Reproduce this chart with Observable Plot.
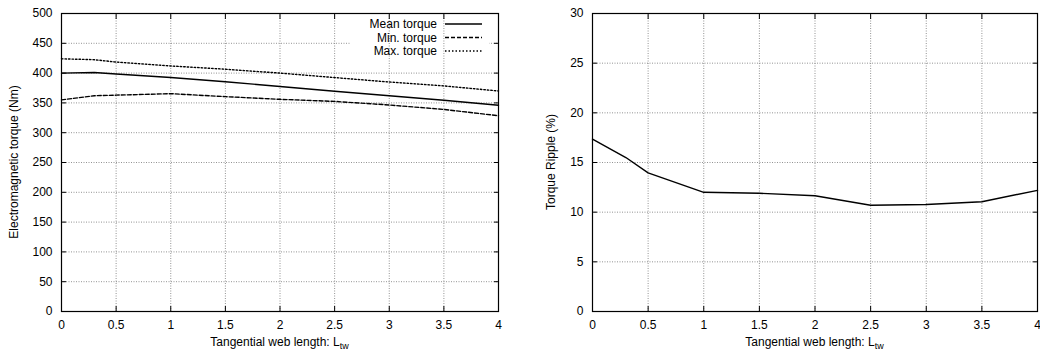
<!DOCTYPE html>
<html>
<head>
<meta charset="utf-8">
<script src="https://cdn.jsdelivr.net/npm/d3@7"></script>
<script src="https://cdn.jsdelivr.net/npm/@observablehq/plot@0.6"></script>
<style>
  html, body { margin: 0; padding: 0; background: #fff; }
  #wrap { display: flex; width: 1040px; height: 356px; }
  svg { font-family: "Liberation Sans", Arial, sans-serif; }
</style>
</head>
<body>
<div id="wrap"></div>
<script>
// Data
const ltw = [0, 0.3, 0.5, 1, 1.5, 2, 2.5, 3, 3.5, 4];
const meanTorque = [400, 401, 398.5, 392.5, 385.5, 377.5, 369.5, 362, 354.5, 346];
const minTorque = [355, 362, 363, 365.5, 360.5, 356, 352.5, 346.5, 339, 328.5];
const maxTorque = [424, 422.5, 418.5, 412, 406.5, 400, 392.5, 385, 378.5, 370];
const ripple = [17.35, 15.5, 13.95, 12.0, 11.9, 11.65, 10.7, 10.77, 11.05, 12.2];

const xTicks = [0, 0.5, 1, 1.5, 2, 2.5, 3, 3.5, 4];
const yTicksLeft = [0, 50, 100, 150, 200, 250, 300, 350, 400, 450, 500];
const yTicksRight = [0, 5, 10, 15, 20, 25, 30];

const seriesNames = ["Mean torque", "Min. torque", "Max. torque"];
const seriesValues = [meanTorque, minTorque, maxTorque];
const dashes = [null, "4,2", "1.5,2"];

const torqueRows = seriesNames.flatMap((name, i) =>
  ltw.map((x, j) => ({ series: name, x, y: seriesValues[i][j] })));
const rippleRows = ltw.map((x, j) => ({ x, y: ripple[j] }));

const gridStyle = { stroke: "#777", strokeOpacity: 1, strokeDasharray: "1,1.5", strokeWidth: 0.8 };
const fmt = d => String(d);

function frameAxes(yTicks, extra = []) {
  return [
    Plot.gridY(yTicks, gridStyle),
    ...extra,
    Plot.gridX(xTicks, gridStyle),
    Plot.axisX(xTicks, { tickSize: 0, tickPadding: 9, label: null, fontSize: 12, tickFormat: fmt }),
    Plot.axisY(yTicks, { tickSize: 0, tickPadding: 9, label: null, fontSize: 12, tickFormat: fmt }),
    Plot.axisX(xTicks, { tickSize: -5, tickFormat: () => "", label: null }),
    Plot.axisX(xTicks, { anchor: "top", tickSize: -5, tickFormat: () => "", label: null }),
    Plot.axisY(yTicks, { tickSize: -5, tickFormat: () => "", label: null }),
    Plot.axisY(yTicks, { anchor: "right", tickSize: -5, tickFormat: () => "", label: null })
  ];
}

function addLabels(svg, m, w, h, ylabel) {
  const s = d3.select(svg);
  const cx = (m.left + (w - m.right)) / 2;
  const t = s.append("text")
    .attr("x", cx).attr("y", 346)
    .attr("text-anchor", "middle")
    .attr("font-size", 12).attr("fill", "#000");
  t.append("tspan").text("Tangential web length: L");
  t.append("tspan").attr("font-size", 9).attr("dy", 3).text("tw");
  const cy = (m.top + (h - m.bottom)) / 2;
  s.append("text")
    .attr("transform", `translate(${m.yl},${cy}) rotate(-90)`)
    .attr("text-anchor", "middle")
    .attr("font-size", 12).attr("fill", "#000")
    .text(ylabel);
}

// Left chart
const mL = { left: 61, right: 22, top: 13, bottom: 45, yl: 18 };
const left = Plot.plot({
  width: 520, height: 356,
  marginLeft: mL.left, marginRight: mL.right, marginTop: mL.top, marginBottom: mL.bottom,
  style: { fontFamily: "Liberation Sans, Arial, sans-serif", fontSize: "12px", color: "#000", background: "#fff" },
  x: { domain: [0, 4] },
  y: { domain: [0, 500] },
  marks: [
    ...frameAxes(yTicksLeft, [
      // the key box interrupts the 450 grid line
      Plot.ruleY([450], { x1: 2.65, x2: 3.92, stroke: "#fff", strokeWidth: 3 })
    ]),
    ...seriesNames.map((name, i) => Plot.line(torqueRows.filter(d => d.series === name), {
      x: "x", y: "y", stroke: "#000", strokeWidth: 1.4, strokeDasharray: dashes[i]
    })),
    Plot.frame({ stroke: "#000", strokeWidth: 1.2 })
  ]
});
addLabels(left, mL, 520, 356, "Electromagnetic torque (Nm)");

// Legend (inside top-right of left chart)
{
  const s = d3.select(left);
  const g = s.append("g");
  seriesNames.forEach((name, i) => {
    const y = 24 + i * 13.5;
    g.append("text").attr("x", 437).attr("y", y).attr("dy", "0.35em")
      .attr("text-anchor", "end").attr("font-size", 12).attr("fill", "#000").text(name);
    g.append("line").attr("x1", 445).attr("x2", 482).attr("y1", y).attr("y2", y)
      .attr("stroke", "#000").attr("stroke-width", 1.4)
      .attr("stroke-dasharray", dashes[i]);
  });
}

// Right chart
const mR = { left: 72, right: 3, top: 13, bottom: 45, yl: 35 };
const right = Plot.plot({
  width: 520, height: 356,
  marginLeft: mR.left, marginRight: mR.right, marginTop: mR.top, marginBottom: mR.bottom,
  style: { fontFamily: "Liberation Sans, Arial, sans-serif", fontSize: "12px", color: "#000", background: "#fff" },
  x: { domain: [0, 4] },
  y: { domain: [0, 30] },
  marks: [
    ...frameAxes(yTicksRight),
    Plot.line(rippleRows, { x: "x", y: "y", stroke: "#000", strokeWidth: 1.4 }),
    Plot.frame({ stroke: "#000", strokeWidth: 1.2 })
  ]
});
addLabels(right, mR, 520, 356, "Torque Ripple (%)");

document.getElementById("wrap").append(left, right);
</script>
</body>
</html>
